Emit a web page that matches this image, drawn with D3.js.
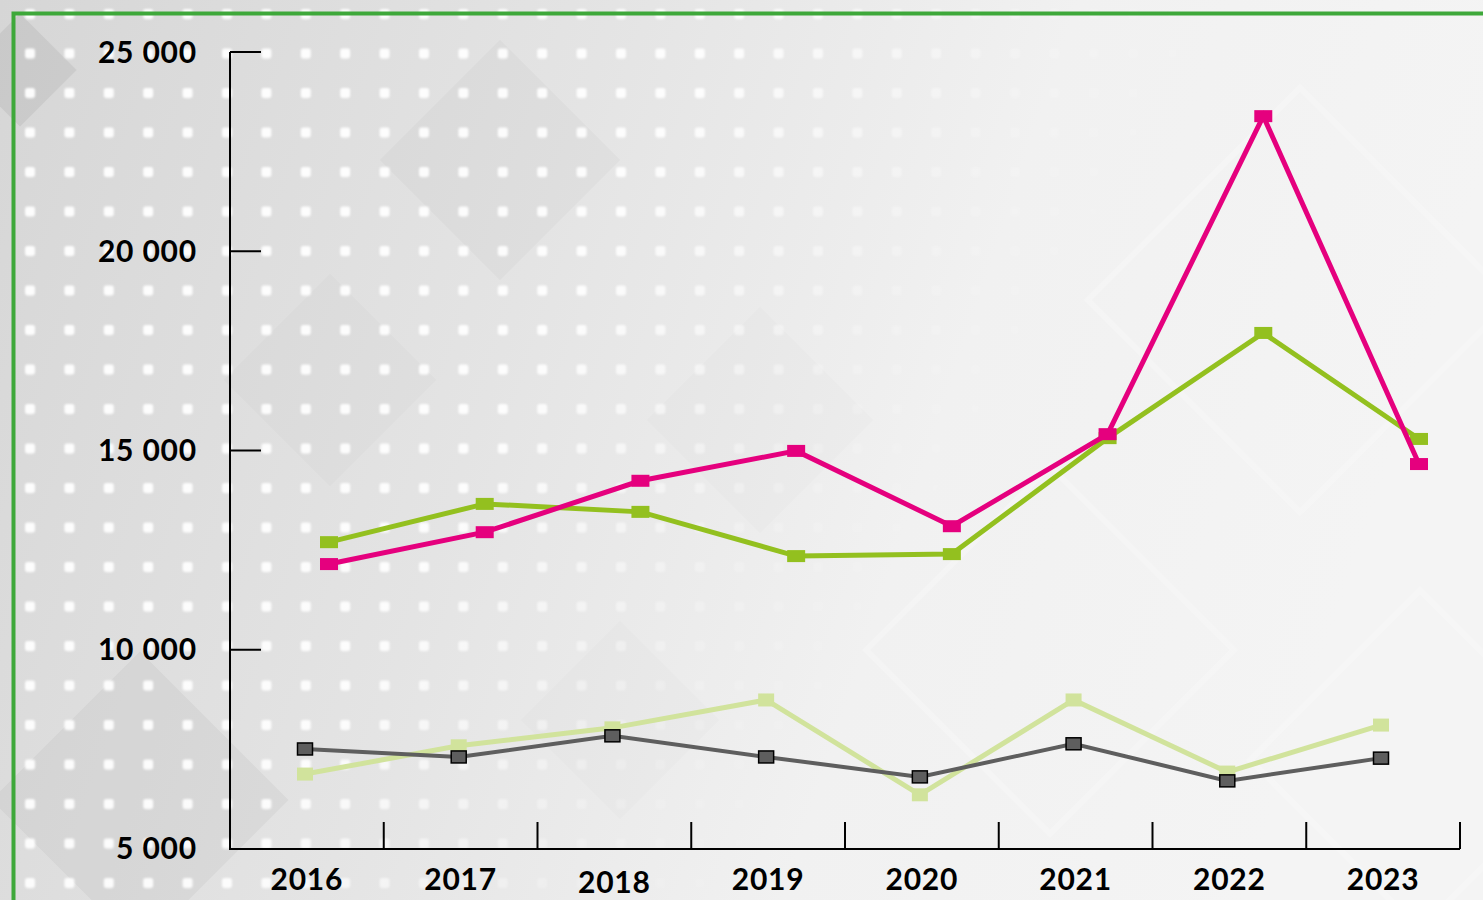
<!DOCTYPE html>
<html>
<head>
<meta charset="utf-8">
<script src="https://cdn.jsdelivr.net/npm/d3@7"></script>
<style>
  html, body { margin: 0; padding: 0; background: #ececec; }
  svg { display: block; }
  text { font-family: "Lato", "DejaVu Sans", sans-serif; font-weight: 700; fill: #000; }
</style>
</head>
<body>
<svg id="chart" width="1483" height="900"></svg>
<script>
// Years and series values
const years = ["2016", "2017", "2018", "2019", "2020", "2021", "2022", "2023"];
const seriesPink = [12150, 12950, 14240, 14990, 13100, 15410, 23390, 14660];
const seriesGreen = [12700, 13660, 13460, 12350, 12400, 15310, 17950, 15290];
const seriesGray = [7510, 7310, 7840, 7310, 6810, 7640, 6710, 7280];
const seriesLightGreen = [6880, 7590, 8040, 8740, 6360, 8740, 6930, 8110];
const yTicks = [5000, 10000, 15000, 20000, 25000];

const W = 1483, H = 900;
const svg = d3.select("#chart");
const defs = svg.append("defs");

// ---- background ----
const bg = defs.append("linearGradient").attr("id", "bgGrad")
  .attr("x1", 0).attr("y1", 0).attr("x2", 1).attr("y2", 0.2);
bg.append("stop").attr("offset", 0).attr("stop-color", "#d6d6d6");
bg.append("stop").attr("offset", 0.4).attr("stop-color", "#e4e4e4");
bg.append("stop").attr("offset", 0.7).attr("stop-color", "#f1f1f1");
bg.append("stop").attr("offset", 1).attr("stop-color", "#f4f4f4");
svg.append("rect").attr("width", W).attr("height", H).attr("fill", "url(#bgGrad)");

// soft darker diamonds
const diamonds = [
  {cx: 20, cy: 70, s: 80, o: 0.14},
  {cx: 500, cy: 160, s: 170, o: 0.06},
  {cx: 330, cy: 380, s: 150, o: 0.04},
  {cx: 140, cy: 800, s: 210, o: 0.09},
  {cx: 760, cy: 420, s: 160, o: 0.025},
  {cx: 620, cy: 720, s: 140, o: 0.025}
];
svg.append("g").selectAll("rect").data(diamonds).join("rect")
  .attr("x", d => -d.s / 2).attr("y", d => -d.s / 2)
  .attr("width", d => d.s).attr("height", d => d.s)
  .attr("transform", d => `translate(${d.cx},${d.cy}) rotate(45)`)
  .attr("fill", "#808080").attr("opacity", d => d.o);

// faint light diamond outlines on the right
const outlines = [
  {cx: 1300, cy: 300, s: 300},
  {cx: 1050, cy: 650, s: 260},
  {cx: 1420, cy: 760, s: 240}
];
svg.append("g").selectAll("rect").data(outlines).join("rect")
  .attr("x", d => -d.s / 2).attr("y", d => -d.s / 2)
  .attr("width", d => d.s).attr("height", d => d.s)
  .attr("transform", d => `translate(${d.cx},${d.cy}) rotate(45)`)
  .attr("fill", "none").attr("stroke", "#ffffff").attr("stroke-width", 6).attr("opacity", 0.22);

// white dot grid, fading to the right
const pat = defs.append("pattern").attr("id", "dots")
  .attr("patternUnits", "userSpaceOnUse").attr("width", 39.4).attr("height", 39.5)
  .attr("x", 25).attr("y", 9);
pat.append("rect").attr("x", 0).attr("y", 0).attr("width", 10).attr("height", 10)
  .attr("rx", 2.5).attr("fill", "#ffffff");
const fade = defs.append("linearGradient").attr("id", "fade")
  .attr("x1", 0).attr("y1", 0).attr("x2", 1).attr("y2", 0.35);
fade.append("stop").attr("offset", 0).attr("stop-color", "#fff").attr("stop-opacity", 0.95);
fade.append("stop").attr("offset", 0.45).attr("stop-color", "#fff").attr("stop-opacity", 0.9);
fade.append("stop").attr("offset", 0.64).attr("stop-color", "#fff").attr("stop-opacity", 0.2);
fade.append("stop").attr("offset", 0.78).attr("stop-color", "#fff").attr("stop-opacity", 0);
const mask = defs.append("mask").attr("id", "dotMask");
mask.append("rect").attr("width", W).attr("height", H).attr("fill", "url(#fade)");
defs.append("filter").attr("id", "soft").append("feGaussianBlur").attr("stdDeviation", 0.8);
svg.append("rect").attr("width", W).attr("height", H)
  .attr("fill", "url(#dots)").attr("mask", "url(#dotMask)").attr("filter", "url(#soft)");

// green frame (top and left)
svg.append("path").attr("d", `M13.5,${H} L13.5,13.5 L${W},13.5`)
  .attr("fill", "none").attr("stroke", "#3ea83a").attr("stroke-width", 4);

// ---- scales ----
const y = d3.scaleLinear().domain([5000, 25000]).range([849, 52]);
const xBand = d3.scaleBand().domain(years).range([230, 1460]);
const xA = d3.scalePoint().domain(years).range([329, 1419]);
const xB = d3.scalePoint().domain(years).range([305, 1381]);

// ---- axes ----
const axisG = svg.append("g");
axisG.append("line").attr("x1", 230).attr("x2", 230).attr("y1", 52).attr("y2", 849)
  .attr("stroke", "#000").attr("stroke-width", 2);
axisG.append("line").attr("x1", 229).attr("x2", 1460).attr("y1", 849).attr("y2", 849)
  .attr("stroke", "#000").attr("stroke-width", 2);

axisG.selectAll(".ytick").data(yTicks.filter(v => v > 5000)).join("line")
  .attr("x1", 230).attr("x2", 261).attr("y1", d => y(d)).attr("y2", d => y(d))
  .attr("stroke", "#000").attr("stroke-width", 2);

const fmt = v => d3.format(",")(v).replace(/,/g, " ");
axisG.selectAll(".ylab").data(yTicks).join("text")
  .attr("x", 197).attr("y", d => y(d) + (d === 5000 ? 2 : 3))
  .attr("text-anchor", "end").attr("dominant-baseline", "middle")
  .attr("font-size", 30).attr("letter-spacing", 0.8).text(fmt);

const bounds = years.map(d => xBand(d)).concat([xBand.range()[1]]);
axisG.selectAll(".xtick").data(bounds).join("line")
  .attr("x1", d => d).attr("x2", d => d).attr("y1", 822).attr("y2", 849)
  .attr("stroke", "#000").attr("stroke-width", 2);

axisG.selectAll(".xlab").data(years).join("text")
  .attr("x", d => xBand(d) + xBand.bandwidth() / 2)
  .attr("y", d => d === "2018" ? 893 : 890)
  .attr("text-anchor", "middle").attr("font-size", 30).attr("letter-spacing", 0.8).text(d => d);

// ---- series ----
const series = [
  {vals: seriesLightGreen, x: xB, color: "#d1e39c", stroke: "none", w: 5, mw: 16, mh: 13},
  {vals: seriesGray, x: xB, color: "#5e5e5e", stroke: "#000", w: 4, mw: 15, mh: 12},
  {vals: seriesGreen, x: xA, color: "#93c01f", stroke: "none", w: 5, mw: 18, mh: 12},
  {vals: seriesPink, x: xA, color: "#e5007e", stroke: "none", w: 5, mw: 18, mh: 12}
];

series.forEach(s => {
  const pts = years.map((yr, i) => [s.x(yr), y(s.vals[i])]);
  svg.append("path").datum(pts)
    .attr("d", d3.line())
    .attr("fill", "none").attr("stroke", s.color).attr("stroke-width", s.w)
    .attr("stroke-linejoin", "miter");
  svg.append("g").selectAll("rect").data(pts).join("rect")
    .attr("x", d => d[0] - s.mw / 2).attr("y", d => d[1] - s.mh / 2)
    .attr("width", s.mw).attr("height", s.mh)
    .attr("fill", s.color)
    .attr("stroke", s.stroke).attr("stroke-width", s.stroke === "none" ? 0 : 1.5);
});
</script>
</body>
</html>
